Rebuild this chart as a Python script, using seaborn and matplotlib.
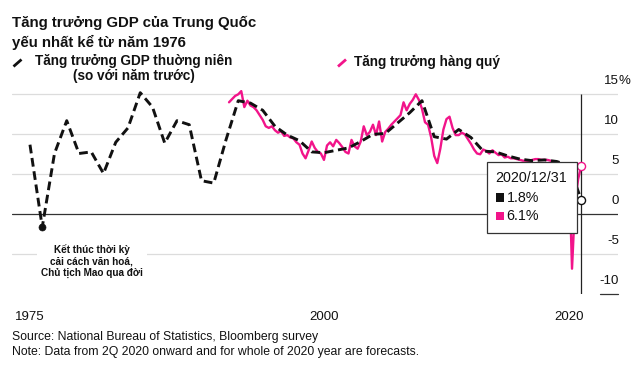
import matplotlib
matplotlib.use('Agg')
import numpy as np
import pandas as pd
import matplotlib.pyplot as plt
import seaborn as sns
from matplotlib.patches import Rectangle
from matplotlib.lines import Line2D

# annual real GDP growth, % y/y (plotted at year end)
years = list(range(1975, 2021))
annual_growth = [8.7, -1.6, 7.6, 11.7, 7.6, 7.8, 5.1, 9.0, 10.8, 15.2,
                 13.4, 8.9, 11.7, 11.2, 4.2, 3.9, 9.3, 14.2, 13.9, 13.0,
                 11.0, 9.9, 9.2, 7.8, 7.7, 8.0, 8.3, 9.1, 10.0, 10.1,
                 11.4, 12.7, 14.2, 9.7, 9.4, 10.6, 9.6, 7.9, 7.8, 7.3,
                 6.9, 6.7, 6.8, 6.6, 6.1, 1.8]

# quarterly growth, 1Q 1992 .. 4Q 2020 (quarter end)
quarter_start = '1992-03-31'
quarterly_growth = [14.0, 14.4, 14.8, 15.0,
                    15.4, 13.4, 14.2, 13.6,
                    13.4, 13.0, 12.4, 11.8,
                    11.0, 10.8, 11.0, 10.5,
                    10.2, 10.4, 9.8, 9.9,
                    9.6, 9.5, 9.0, 8.7,
                    7.6, 7.0, 8.0, 9.1,
                    8.3, 7.8, 7.6, 6.8,
                    8.6, 9.0, 8.5, 9.3,
                    8.9, 8.4, 7.8, 7.6,
                    9.3, 8.5, 8.2, 9.1,
                    11.0, 9.9, 10.3, 11.2,
                    9.9, 11.6, 9.1, 10.3,
                    10.7, 11.2, 11.6, 12.0,
                    12.4, 14.0, 13.0, 13.8,
                    14.3, 15.0, 14.3, 13.2,
                    11.5, 11.2, 9.6, 7.3,
                    6.4, 8.2, 10.6, 11.9,
                    12.2, 10.8, 9.9, 9.9,
                    10.2, 10.0, 9.4, 8.8,
                    8.1, 7.6, 7.5, 8.1,
                    7.9, 7.6, 8.0, 7.7,
                    7.4, 7.5, 7.1, 7.2,
                    7.0, 7.0, 6.9, 6.8,
                    6.7, 6.7, 6.7, 6.8,
                    6.9, 6.9, 6.8, 6.8,
                    6.8, 6.7, 6.5, 6.4,
                    6.4, 6.2, 6.0, 6.0,
                    -6.8, 1.5, 4.4, 6.1]

x_ticks = ['1975-12-31', '2000-01-01', '2020-01-01']
x_tick_labels = ['1975', '2000', '2020']
y_ticks = [-10, -5, 0, 5, 10, 15]

title_lines = ['Tăng trưởng GDP của Trung Quốc', 'yếu nhất kể từ năm 1976']
annual_label = 'Tăng trưởng GDP thuờng niên\n(so với năm trước)'
quarterly_label = 'Tăng trưởng hàng quý'
note_1976 = 'Kết thúc thời kỳ\ncải cách văn hoá,\nChủ tịch Mao qua đời'
footer_lines = ['Source: National Bureau of Statistics, Bloomberg survey',
                'Note: Data from 2Q 2020 onward and for whole of 2020 year are forecasts.']

BLACK = '#111111'
PINK = '#f2148a'
GRID = '#dcdcdc'

annual = pd.DataFrame({'date': pd.to_datetime([f'{y}-12-31' for y in years]),
                       'growth': annual_growth})
quarterly = pd.DataFrame({'date': pd.date_range(quarter_start, periods=len(quarterly_growth), freq='QE'),
                          'growth': quarterly_growth})

sns.set_style('white')
plt.rcParams['font.family'] = ['Liberation Sans', 'DejaVu Sans']

W, H = 640, 369
fig = plt.figure(figsize=(W / 100, H / 100), dpi=100)


def fx(px):
    return px / W


def fy(py):
    return 1 - py / H


ax = fig.add_axes([fx(12), fy(294.3), fx(606), (294.3 - 90.3) / H])

# gridlines
for v in y_ticks[1:]:
    ax.axhline(v, color=('#333333' if v == 0 else GRID), lw=0.9, zorder=0)
ax.axhline(-10, xmin=(600 - 12) / 606, xmax=1.0, color='#333333', lw=0.9, clip_on=False)

sns.lineplot(data=quarterly, x='date', y='growth', ax=ax, color=PINK, lw=1.7, zorder=2)
sns.lineplot(data=annual, x='date', y='growth', ax=ax, color=BLACK, lw=2.1,
             linestyle=(0, (3.0, 1.6)), zorder=3)

# crosshair on the last period
last = annual['date'].iloc[-1]
ax.vlines(last, -10, 15, color='#222222', lw=0.9, zorder=4)

low = annual.loc[annual['growth'].idxmin()]
sns.scatterplot(x=[low['date']], y=[low['growth']], ax=ax, color=BLACK, s=26,
                edgecolor=BLACK, zorder=5)
sns.scatterplot(x=[last], y=[annual['growth'].iloc[-1]], ax=ax, color='white', s=34,
                edgecolor=BLACK, linewidth=1, zorder=6)
sns.scatterplot(x=[quarterly['date'].iloc[-1]], y=[quarterly['growth'].iloc[-1]], ax=ax,
                color='white', s=34, edgecolor=PINK, linewidth=1, zorder=6)

ax.set_ylim(-10, 15.5)
ax.set_xlim(pd.Timestamp('1974-07-13'), pd.Timestamp('2024-01-01'))
ax.set_xlabel('')
ax.set_ylabel('')
for s in ax.spines.values():
    s.set_visible(False)
ax.spines['bottom'].set_position(('outward', 2.2))
ax.set_yticks([])
ax.set_xticks(pd.to_datetime(x_ticks))
ax.set_xticklabels(x_tick_labels)
ax.tick_params(axis='x', length=2.5, width=0.8, color='#444444', pad=7,
               labelsize=9.5, labelcolor=BLACK)

# right-hand value labels, sitting above their gridlines
ytr = ax.get_yaxis_transform()
for v in y_ticks:
    ax.text(1.0015, v + 1.6, str(v), transform=ytr, ha='right', va='center',
            fontsize=9.5, color=BLACK, clip_on=False)
ax.text(1.0015, y_ticks[-1] + 1.6, '%', transform=ytr, ha='left', va='center',
        fontsize=9.5, color=BLACK, clip_on=False)

ax.text(pd.Timestamp('1981-01-15'), -5.8, note_1976, ha='center', va='center',
        fontsize=7.2, fontweight='bold', color=BLACK, linespacing=1.2, zorder=4,
        bbox=dict(facecolor='white', edgecolor='none', pad=3))

# title
fig.text(fx(12), fy(27), title_lines[0], fontsize=10.8, fontweight='bold', color=BLACK, va='baseline')
fig.text(fx(12), fy(47), title_lines[1], fontsize=10.8, fontweight='bold', color=BLACK, va='baseline')

# legend
fig.add_artist(Line2D([fx(13.5), fx(21.5)], [fy(66.5), fy(59.5)], color=BLACK, lw=2.0,
                      solid_capstyle='butt'))
fig.text(fx(134), fy(68.5), annual_label, fontsize=9.8, fontweight='bold', color=BLACK,
         ha='center', va='center', multialignment='center', linespacing=1.18)
fig.add_artist(Line2D([fx(338), fx(346)], [fy(66.5), fy(59.5)], color=PINK, lw=2.0,
                      solid_capstyle='butt'))
fig.text(fx(354), fy(62), quarterly_label, fontsize=9.8, fontweight='bold', color=BLACK,
         ha='left', va='center')

# hover box for the last period
fig.add_artist(Rectangle((fx(487.3), fy(233.3)), fx(90), (233.3 - 161.7) / H,
                         transform=fig.transFigure, facecolor='white',
                         edgecolor='#333333', lw=0.9, zorder=10))
fig.text(fx(495.5), fy(178), last.strftime('%Y/%m/%d'), fontsize=10.3, color=BLACK,
         va='center', zorder=11)
for row, (c, val) in enumerate([(BLACK, annual['growth'].iloc[-1]),
                                (PINK, quarterly['growth'].iloc[-1])]):
    yc = 197.5 + row * 18.5
    fig.add_artist(Rectangle((fx(495.7), fy(yc + 4.3)), fx(8.7), 8.7 / H,
                             transform=fig.transFigure, facecolor=c, edgecolor='none', zorder=11))
    fig.text(fx(506.5), fy(yc), f'{val:.1f}%', fontsize=10.3, color=BLACK, va='center', zorder=11)

# footer
fig.text(fx(12), fy(337), footer_lines[0], fontsize=8.8, color=BLACK, va='center')
fig.text(fx(12), fy(352), footer_lines[1], fontsize=8.8, color=BLACK, va='center')

fig.savefig('out.png', dpi=100, facecolor='white')
